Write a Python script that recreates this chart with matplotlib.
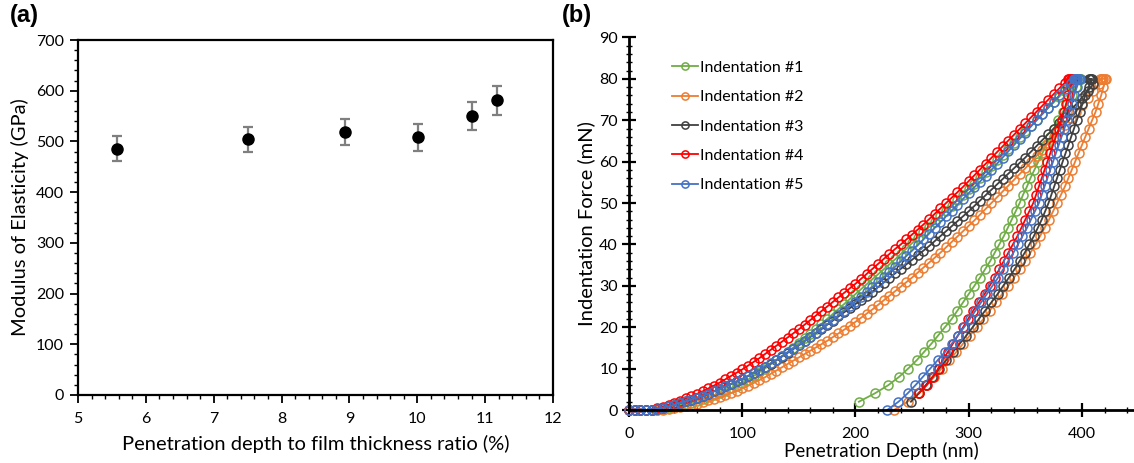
import matplotlib
matplotlib.use("Agg")
import matplotlib.pyplot as plt
from matplotlib.ticker import MultipleLocator

plt.rcParams['font.family'] = ['Lato', 'DejaVu Sans']

# ---------------- Panel (a) data ----------------
ratio_pct = [5.58, 7.51, 8.94, 10.01, 10.81, 11.18]
modulus_gpa = [486, 504, 518, 508, 550, 581]
modulus_err = [25, 25, 26, 26, 28, 29]

# ---------------- Panel (b) data ----------------
LOAD_DEPTH_NM = [0, 5, 10, 15, 20, 25, 30, 35, 40, 45, 50, 55, 60, 65, 70, 75, 80, 85, 90, 95,
                 100, 105, 110, 115, 120, 125, 130, 135, 140, 145, 150, 155, 160, 165, 170, 175,
                 180, 185, 190, 195, 200, 205, 210, 215, 220, 225, 230, 235, 240, 245, 250, 255,
                 260, 265, 270, 275, 280, 285, 290, 295, 300, 305, 310, 315, 320, 325, 330, 335,
                 340, 345, 350, 355, 360, 365, 370, 375, 380, 385, 390, 395, 400, 405, 410, 415]
UNLOAD_FORCE_MN = [80, 78, 76, 74, 72, 70, 68, 66, 64, 62, 60, 58, 56, 54, 52, 50, 48, 46, 44, 42,
                   40, 38, 36, 34, 32, 30, 28, 26, 24, 22, 20, 18, 16, 14, 12, 10, 8, 6, 4, 2, 0]
PEAK_FORCE_MN = 80

labels = ["Indentation #1", "Indentation #2", "Indentation #3", "Indentation #4", "Indentation #5"]
colors = ["#70AD47", "#ED7D31", "#404040", "#FF0000", "#4472C4"]

# loading force (mN) at LOAD_DEPTH_NM
load_1 = [0, 0, 0, 0, 0, 0.1, 0.3, 0.6, 0.9, 1.2, 1.5, 1.8, 2.2, 2.6, 3.1, 3.6, 4.1, 4.7, 5.3, 5.9,
          6.5, 7.3, 8.2, 9.1, 10.0, 11.0, 12.0, 13.0, 14.0, 15.1, 16.2, 17.3, 18.4, 19.6, 20.8, 22.0,
          23.2, 24.4, 25.6, 26.8, 28.0, 29.2, 30.4, 31.6, 32.8, 34.0, 35.2, 36.4, 37.7, 39.0,
          40.3, 41.6, 42.9, 44.2, 45.5, 46.8, 48.1, 49.4, 50.7, 52.0, 53.3, 54.7, 56.1, 57.5, 58.9,
          60.3, 61.7, 63.1, 64.5, 65.9, 67.3, 68.7, 70.1, 71.5, 72.9, 74.3, 75.7, 77.1, 78.5, 79.9]
load_2 = [0, 0, 0, 0, 0, 0, 0.1, 0.3, 0.5, 0.7, 0.9, 1.2, 1.5, 1.9, 2.3, 2.7, 3.1, 3.6, 4.1, 4.6,
          5.2, 5.8, 6.5, 7.2, 7.9, 8.7, 9.5, 10.3, 11.1, 11.9, 12.7, 13.5, 14.3, 15.1, 15.9, 16.7,
          17.6, 18.5, 19.4, 20.3, 21.3, 22.3, 23.3, 24.3, 25.4, 26.5, 27.6, 28.7, 29.8, 30.9,
          32.0, 33.2, 34.4, 35.6, 36.8, 38.0, 39.3, 40.6, 41.9, 43.2, 44.5, 45.8, 47.2, 48.6, 50.0,
          51.4, 52.8, 54.2, 55.6, 57.0, 58.4, 59.9, 61.4, 62.9, 64.4, 65.9, 67.4, 68.9, 70.5, 72.1,
          73.7, 75.4, 77.1, 78.8]
load_3 = [0, 0, 0, 0, 0.1, 0.3, 0.6, 0.9, 1.3, 1.7, 2.1, 2.5, 2.9, 3.4, 3.9, 4.5, 5.1, 5.7, 6.3, 6.9,
          7.5, 8.2, 8.9, 9.6, 10.4, 11.2, 12.0, 12.9, 13.8, 14.7, 15.6, 16.6, 17.6, 18.6, 19.6, 20.6,
          21.6, 22.6, 23.6, 24.6, 25.6, 26.6, 27.6, 28.6, 29.7, 30.8, 31.9, 33.0, 34.1, 35.2,
          36.3, 37.4, 38.5, 39.6, 40.8, 42.0, 43.2, 44.4, 45.6, 46.8, 48.0, 49.3, 50.6, 51.9, 53.2,
          54.5, 55.8, 57.1, 58.4, 59.7, 61.0, 62.4, 63.8, 65.2, 66.6, 68.0, 69.4, 70.9, 72.4, 73.9,
          75.5, 77.1, 78.7]
load_4 = [0, 0, 0, 0, 0.1, 0.4, 0.8, 1.2, 1.7, 2.2, 2.8, 3.3, 3.9, 4.5, 5.2, 5.9, 6.6, 7.4, 8.2, 9.0,
          9.8, 10.7, 11.6, 12.5, 13.5, 14.5, 15.5, 16.5, 17.5, 18.5, 19.5, 20.6, 21.7, 22.8, 23.9,
          25.0, 26.1, 27.2, 28.3, 29.4, 30.5, 31.7, 32.9, 34.1, 35.3, 36.5, 37.7, 38.9, 40.0, 41.2,
          42.4, 43.6, 44.8, 46.1, 47.4, 48.7, 50.0, 51.3, 52.6, 53.9, 55.3, 56.7, 58.1, 59.5, 60.9,
          62.3, 63.7, 65.1, 66.5, 67.9, 69.3, 70.7, 72.1, 73.5, 74.9, 76.3, 77.7, 79.1]
load_5 = [0, 0, 0, 0, 0.1, 0.3, 0.6, 0.9, 1.3, 1.7, 2.1, 2.5, 2.9, 3.4, 3.9, 4.5, 5.1, 5.7, 6.3, 6.9,
          7.5, 8.2, 8.9, 9.7, 10.5, 11.3, 12.1, 13.0, 13.9, 14.8, 15.7, 16.7, 17.7, 18.7, 19.7, 20.7,
          21.8, 22.9, 24.0, 25.1, 26.2, 27.3, 28.5, 29.7, 30.9, 32.1, 33.3, 34.6, 35.9, 37.2,
          38.5, 39.8, 41.2, 42.6, 44.0, 45.4, 46.8, 48.2, 49.6, 51.0, 52.4, 53.8, 55.2, 56.6, 58.0,
          59.5, 61.0, 62.5, 64.0, 65.5, 67.0, 68.5, 70.0, 71.5, 73.0, 74.5, 76.0, 77.5, 79.0]

# hold at peak force (depth, nm)
hold_1 = [396, 397, 398]
hold_2 = [416, 417, 418, 419, 420]
hold_3 = [406, 407, 408]
hold_4 = [388, 389, 390, 391]
hold_5 = [393, 394, 395, 396, 397]

# unloading depth (nm) at UNLOAD_FORCE_MN
unload_1 = [399, 395, 391, 387, 383, 379, 375.5, 372, 368.5, 365, 361.5, 358, 354.5, 351.5, 348, 345,
            341.5, 338, 334.5, 331, 327, 323, 319, 314.5, 310, 305, 300, 295, 290, 285, 279, 273,
            267, 260.5, 254, 246.5, 238.5, 229, 217, 203]
unload_2 = [421, 419, 417, 414.5, 412, 409, 406, 403, 400, 397, 394, 391, 388, 385, 381.5, 378,
            374.5, 371, 367, 363, 359, 354.5, 350, 345, 340, 335, 329.5, 324, 318.5, 313, 307, 301,
            295, 289, 282.5, 276, 269.5, 262.5, 255, 246, 234]
unload_3 = [409, 406, 403, 400.5, 398, 395.5, 393, 390.5, 388, 385.5, 383, 380.5, 378, 375.5, 373,
            370.5, 367.5, 364.5, 361, 357.5, 353.5, 349.5, 345, 340.5, 335.5, 330.5, 325.5, 320,
            314.5, 309, 303.5, 298, 292, 286, 280, 274, 268, 262, 256, 249]
unload_4 = [392, 390, 388, 386, 384, 382, 379.5, 377, 374.5, 372, 369.5, 367, 364.5, 362, 359.5, 357,
            353.5, 350, 346.5, 343, 339, 335, 331, 327, 323, 318.5, 314, 309, 304, 299.5, 295,
            290.5, 286, 281.5, 277, 273, 268.5, 263, 256]
unload_5 = [398, 395.5, 393, 391, 389, 387, 384.5, 382, 379.5, 377, 374.5, 372, 369.5, 367, 364.5, 362,
            358.5, 355, 351.5, 347.5, 343.5, 339.5, 335, 330.5, 326, 321, 316, 311, 306, 301, 296,
            290.5, 285, 279, 272.5, 266, 259.5, 253, 246, 238, 228]

loads = [load_1, load_2, load_3, load_4, load_5]
holds = [hold_1, hold_2, hold_3, hold_4, hold_5]
unloads = [unload_1, unload_2, unload_3, unload_4, unload_5]

W, H = 1134, 463
fig = plt.figure(figsize=(W / 100, H / 100), dpi=100)

# ---------------- Panel (a) ----------------
axA = fig.add_axes([78 / W, (H - 395) / H, 475 / W, 355 / H])
axA.errorbar(ratio_pct, modulus_gpa, yerr=modulus_err, fmt='o', color='black', ms=8,
             ecolor='#7f7f7f', elinewidth=1.6, capsize=3.5, capthick=1.6, zorder=3)
axA.set_xlim(5, 12)
axA.set_ylim(0, 700)
axA.xaxis.set_major_locator(MultipleLocator(1))
axA.xaxis.set_minor_locator(MultipleLocator(0.2))
axA.yaxis.set_major_locator(MultipleLocator(100))
axA.yaxis.set_minor_locator(MultipleLocator(20))
axA.tick_params(which='major', direction='out', length=6, width=1.3, labelsize=11.5,
                top=False, right=False)
axA.tick_params(axis='x', which='major', pad=6)
axA.tick_params(axis='y', which='major', pad=4)
axA.tick_params(which='minor', direction='out', length=3, width=1.0, top=False, right=False)
for s in axA.spines.values():
    s.set_linewidth(1.6)
axA.set_xlabel("Penetration depth to film thickness ratio (%)", fontsize=14.5, labelpad=7)
axA.set_ylabel("Modulus of Elasticity (GPa)", fontsize=14.5, labelpad=5)

# ---------------- Panel (b) ----------------
axB = fig.add_axes([629 / W, (H - 410) / H, 505 / W, 372.5 / H])
for lab, col, ld, hd, ud in zip(labels, colors, loads, holds, unloads):
    x = LOAD_DEPTH_NM[:len(ld)] + hd + ud
    y = ld + [PEAK_FORCE_MN] * len(hd) + UNLOAD_FORCE_MN[:len(ud)]
    axB.plot(x, y, '-o', color=col, mfc='none', mec=col, ms=6.5, mew=1.1, lw=1.3,
             label=lab, clip_on=False)
axB.set_xlim(0, 446)
axB.set_ylim(0, 90)
axB.xaxis.set_major_locator(MultipleLocator(100))
axB.xaxis.set_minor_locator(MultipleLocator(20))
axB.yaxis.set_major_locator(MultipleLocator(10))
axB.yaxis.set_minor_locator(MultipleLocator(2))
axB.tick_params(which='major', direction='inout', length=10, width=1.6, labelsize=11.5)
axB.tick_params(axis='x', which='major', pad=7)
axB.tick_params(axis='y', which='major', pad=3)
axB.tick_params(which='minor', direction='inout', length=5, width=1.0)
axB.spines['top'].set_visible(False)
axB.spines['right'].set_visible(False)
axB.spines['left'].set_linewidth(2)
axB.spines['bottom'].set_linewidth(2)
axB.set_xlabel("Penetration Depth (nm)", fontsize=13.5, labelpad=1)
axB.set_ylabel("Indentation Force (mN)", fontsize=14.5, labelpad=3)
leg = axB.legend(loc='upper left', bbox_to_anchor=(0.073, 0.955), frameon=False,
                 fontsize=11.5, handlelength=1.6, handletextpad=0.15, labelspacing=0.95,
                 borderaxespad=0, markerscale=0.8)

fig.text(10 / W, 1 - 4 / H, "(a)", fontsize=17, fontweight='bold', va='top', ha='left',
         family=['Liberation Sans', 'DejaVu Sans'])
fig.text(562 / W, 1 - 4 / H, "(b)", fontsize=17, fontweight='bold', va='top', ha='left',
         family=['Liberation Sans', 'DejaVu Sans'])

fig.savefig("out.png", dpi=100)
